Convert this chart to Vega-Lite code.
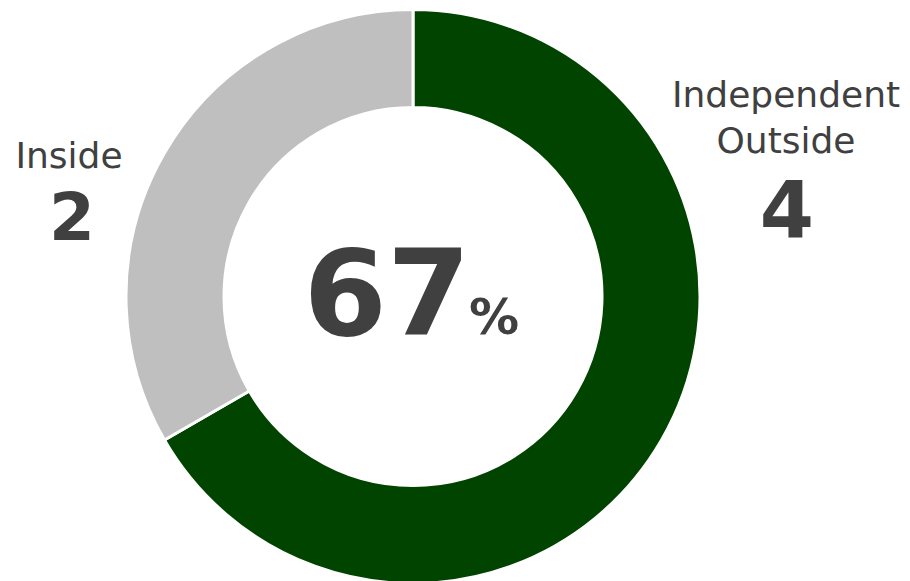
{
  "$schema": "https://vega.github.io/schema/vega-lite/v6.json",
  "width": 826,
  "height": 569,
  "autosize": {"type": "none"},
  "padding": {"left": 0, "right": 84, "top": 12, "bottom": 0},
  "background": "white",
  "view": {"stroke": null},
  "data": {
    "values": [
      {"category": "Independent Outside", "label": "Independent\nOutside", "count": 4, "share": 67},
      {"category": "Inside", "label": "Inside", "count": 2, "share": 33}
    ]
  },
  "layer": [
    {
      "mark": {"type": "arc", "innerRadius": 189, "outerRadius": 287, "stroke": "white", "strokeWidth": 3},
      "encoding": {
        "theta": {"field": "count", "type": "quantitative", "stack": true},
        "color": {
          "field": "category",
          "type": "nominal",
          "scale": {"domain": ["Independent Outside", "Inside"], "range": ["#004400", "#bfbfbf"]},
          "legend": null
        },
        "order": {"field": "count", "sort": "descending"}
      }
    },
    {
      "transform": [{"filter": "datum.category === 'Independent Outside'"}],
      "mark": {"type": "text", "font": "DejaVu Sans", "fontSize": 36, "color": "#404040", "align": "center", "baseline": "alphabetic", "lineBreak": "\n", "lineHeight": 46, "dx": 373, "dy": -189.5},
      "encoding": {"text": {"field": "label"}}
    },
    {
      "transform": [{"filter": "datum.category === 'Independent Outside'"}],
      "mark": {"type": "text", "font": "DejaVu Sans", "fontSize": 78, "fontWeight": "bold", "color": "#404040", "align": "center", "baseline": "alphabetic", "dx": 374, "dy": -59.5},
      "encoding": {"text": {"field": "count", "type": "quantitative"}}
    },
    {
      "transform": [{"filter": "datum.category === 'Inside'"}],
      "mark": {"type": "text", "font": "DejaVu Sans", "fontSize": 36, "color": "#404040", "align": "center", "baseline": "alphabetic", "dx": -344, "dy": -128.5},
      "encoding": {"text": {"field": "label"}}
    },
    {
      "transform": [{"filter": "datum.category === 'Inside'"}],
      "mark": {"type": "text", "font": "DejaVu Sans", "fontSize": 66, "fontWeight": "bold", "color": "#404040", "align": "center", "baseline": "alphabetic", "dx": -341, "dy": -56.5},
      "encoding": {"text": {"field": "count", "type": "quantitative"}}
    },
    {
      "transform": [{"filter": "datum.category === 'Independent Outside'"}],
      "mark": {"type": "text", "font": "DejaVu Sans", "fontSize": 120, "fontWeight": "bold", "color": "#404040", "align": "center", "baseline": "alphabetic", "dx": -26, "dy": 38.5},
      "encoding": {"text": {"field": "share", "type": "quantitative"}}
    },
    {
      "transform": [{"filter": "datum.category === 'Independent Outside'"}],
      "mark": {"type": "text", "text": "%", "font": "DejaVu Sans", "fontSize": 50, "fontWeight": "bold", "color": "#404040", "align": "center", "baseline": "alphabetic", "dx": 81, "dy": 37.5},
      "encoding": {}
    }
  ]
}
